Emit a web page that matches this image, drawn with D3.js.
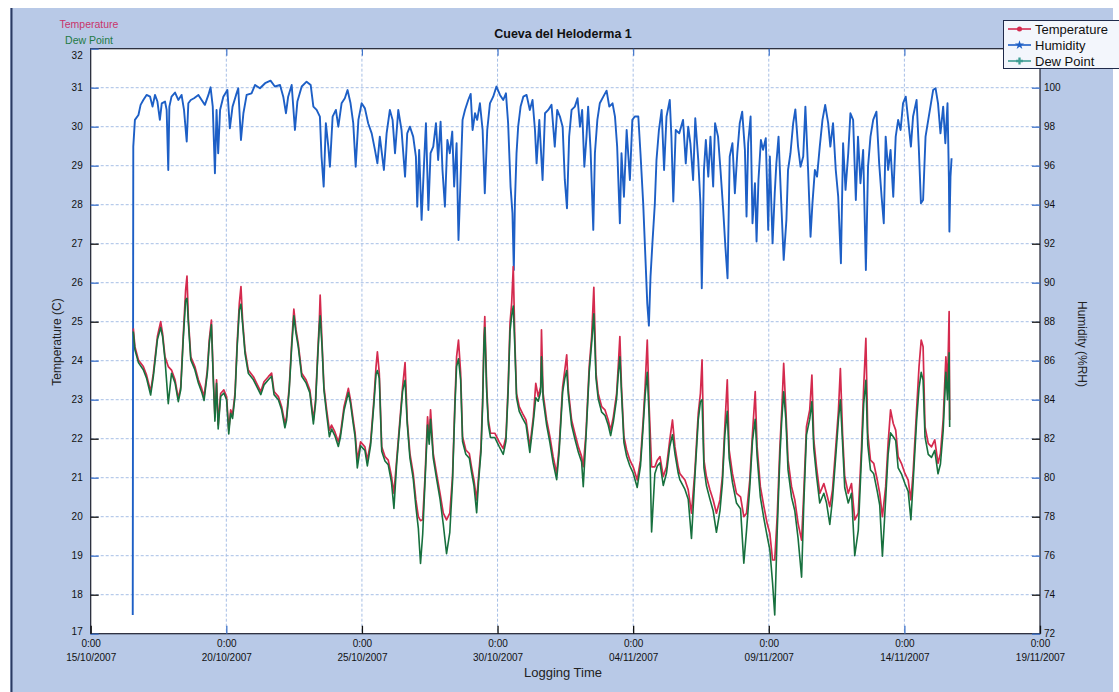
<!DOCTYPE html>
<html><head><meta charset="utf-8">
<script src="https://cdn.jsdelivr.net/npm/d3@7"></script>
<style>
html,body{margin:0;padding:0;background:#fff;}
svg{display:block;font-family:"Liberation Sans",Arial,sans-serif;}
</style></head><body>
<svg id="chart" width="1119" height="692"></svg>
<script>
// ---- data (days since 15/10/2007 00:00) ----
const tempDays = [
1.57,1.63,1.76,1.94,2.06,2.21,2.31,2.46,2.58,2.65,
2.74,2.86,2.98,3.11,3.23,3.32,3.41,3.50,3.55,3.60,
3.69,3.84,3.97,4.09,4.18,4.30,4.37,4.45,4.52,4.58,
4.64,4.70,4.79,4.91,5.01,5.09,5.16,5.23,5.32,5.40,
5.48,5.54,5.60,5.69,5.81,6.00,6.12,6.27,6.39,6.55,
6.67,6.76,6.92,7.04,7.16,7.22,7.32,7.41,7.49,7.57,
7.65,7.78,7.94,8.08,8.21,8.29,8.37,8.43,8.46,8.53,
8.60,8.70,8.80,8.88,9.00,9.13,9.21,9.34,9.50,9.58,
9.68,9.75,9.83,9.95,10.11,10.20,10.32,10.44,10.52,10.57,
10.64,10.73,10.85,10.97,11.09,11.18,11.28,11.40,11.50,11.59,
11.67,11.77,11.89,11.99,12.08,12.16,12.24,12.32,12.42,12.48,
12.53,12.63,12.75,12.88,13.00,13.12,13.24,13.34,13.43,13.49,
13.56,13.64,13.71,13.83,13.96,14.04,14.13,14.23,14.30,14.39,
14.45,14.50,14.53,14.60,14.66,14.74,14.90,15.06,15.21,15.31,
15.39,15.46,15.52,15.58,15.64,15.70,15.80,15.92,16.05,16.19,
16.32,16.41,16.50,16.59,16.62,16.68,16.81,16.93,17.05,17.18,
17.27,17.40,17.48,17.55,17.61,17.73,17.85,17.98,18.10,18.16,
18.26,18.38,18.47,18.55,18.63,18.71,18.84,18.96,19.08,19.17,
19.27,19.39,19.45,19.51,19.57,19.66,19.76,19.88,20.00,20.15,
20.27,20.37,20.44,20.52,20.59,20.68,20.80,20.89,20.99,21.11,
21.23,21.35,21.45,21.54,21.66,21.72,21.91,22.03,22.15,22.27,
22.40,22.48,22.54,22.61,22.70,22.83,22.95,23.07,23.20,23.29,
23.38,23.47,23.54,23.66,23.81,23.96,24.08,24.18,24.30,24.40,
24.50,24.57,24.69,24.82,24.94,25.04,25.14,25.22,25.31,25.41,
25.48,25.55,25.63,25.71,25.84,25.96,26.08,26.21,26.29,26.39,
26.51,26.59,26.66,26.76,26.88,27.03,27.13,27.25,27.35,27.47,
27.57,27.64,27.72,27.80,27.93,28.05,28.17,28.30,28.42,28.50,
28.58,28.65,28.75,28.87,29.00,29.09,29.19,29.31,29.40,29.49,
29.59,29.68,29.77,29.89,30.02,30.14,30.24,30.32,30.45,30.54,
30.62,30.69,30.76,30.88,31.00,31.12,31.24,31.33,31.43,31.53,
31.59,31.65,31.67];

const temperature = [
24.83,24.36,24.02,23.85,23.63,23.21,23.68,24.62,25.00,24.70,
24.10,23.85,23.76,23.51,23.03,23.33,24.62,25.81,26.17,25.09,
24.10,23.85,23.51,23.29,23.08,23.76,24.53,25.04,23.59,22.56,
23.51,22.35,23.16,23.25,23.08,22.22,22.74,22.61,23.16,24.45,
25.47,25.90,25.04,24.27,23.76,23.59,23.42,23.21,23.46,23.59,
23.68,23.21,23.08,22.82,22.39,22.56,23.33,24.45,25.32,24.79,
24.45,23.68,23.51,23.25,22.48,22.99,24.19,25.04,25.68,24.45,
23.33,22.74,22.22,22.35,22.18,21.92,22.14,22.82,23.29,22.99,
22.48,22.14,21.45,21.92,21.79,21.45,21.92,22.99,23.85,24.23,
23.68,21.79,21.54,21.45,21.03,20.60,21.45,22.48,23.33,23.95,
22.48,21.62,21.11,20.43,20.00,19.90,19.92,20.94,22.56,21.97,
22.74,21.62,21.11,20.60,20.09,19.92,20.09,21.03,22.99,24.10,
24.53,23.68,22.05,21.71,21.62,21.28,20.94,20.43,21.03,21.79,
22.99,24.62,25.13,23.33,22.48,22.14,22.14,21.92,21.75,22.05,
23.33,24.96,25.47,26.41,24.45,23.16,22.82,22.65,22.48,21.79,
22.56,23.42,23.08,23.33,24.79,23.16,22.48,22.05,21.54,21.11,
21.79,23.33,23.76,24.15,23.25,22.48,22.14,21.79,21.54,21.28,
22.14,23.85,24.62,25.88,23.68,23.16,22.82,22.74,22.48,22.22,
22.56,23.16,23.85,24.62,23.33,22.05,21.71,21.45,21.28,20.94,
21.45,22.48,23.33,24.53,22.82,21.28,21.28,21.45,21.54,21.03,
21.28,21.97,22.48,21.79,21.28,21.11,20.94,20.69,20.09,21.11,
22.65,23.16,24.02,21.45,21.03,20.69,20.43,20.09,20.43,21.03,
22.31,23.51,21.71,21.11,20.60,20.51,20.00,20.09,20.94,22.14,
23.21,21.79,20.77,20.26,19.83,19.57,18.89,18.89,20.00,21.79,
22.74,23.93,22.74,21.45,20.77,20.43,19.83,19.40,20.60,22.31,
22.74,23.63,21.97,21.28,20.60,20.85,20.60,20.26,20.69,21.79,
22.74,23.80,22.14,21.03,20.60,20.85,19.92,20.09,21.79,23.33,
24.57,22.14,21.45,21.37,20.94,20.60,20.00,20.77,21.88,22.74,
22.39,22.22,21.54,21.37,21.11,20.94,20.43,21.11,22.74,23.85,
24.53,24.36,22.31,21.88,21.79,21.97,21.37,21.62,22.48,24.10,
23.33,25.26,22.48];

const dewPoint = [
24.75,24.28,23.95,23.77,23.55,23.12,23.60,24.54,24.85,24.62,
24.02,22.90,23.68,23.43,22.95,23.25,24.52,25.55,25.60,24.98,
24.02,23.77,23.43,23.20,22.98,23.68,24.43,24.92,23.50,22.45,
23.42,22.25,23.08,23.17,23.00,22.12,22.65,22.52,23.08,24.35,
25.30,25.45,24.95,24.18,23.68,23.51,23.34,23.13,23.38,23.51,
23.60,23.13,23.00,22.74,22.28,22.47,23.25,24.35,25.15,24.70,
24.37,23.60,23.43,23.17,22.38,22.90,24.08,24.90,25.15,24.36,
23.24,22.62,22.05,22.25,22.08,21.80,22.05,22.72,23.18,22.90,
22.38,22.04,21.25,21.82,21.70,21.30,21.83,22.88,23.65,23.75,
23.55,21.68,21.43,21.33,20.88,20.21,21.35,22.38,23.22,23.50,
22.38,21.50,20.98,20.25,19.70,18.80,19.55,20.80,22.35,21.86,
22.50,21.50,20.98,20.45,19.80,19.05,19.60,20.90,22.85,23.85,
24.05,23.50,21.93,21.60,21.50,21.15,20.80,20.10,20.90,21.66,
22.85,24.45,24.85,23.20,22.37,22.03,22.03,21.80,21.60,21.94,
23.20,24.75,25.15,25.40,24.30,23.05,22.70,22.53,22.36,21.65,
22.44,23.05,22.96,23.20,24.10,23.02,22.35,21.90,21.38,20.95,
21.65,23.20,23.55,23.75,23.12,22.35,22.00,21.65,21.40,20.77,
22.02,23.70,24.45,25.20,23.55,23.03,22.68,22.60,22.35,22.08,
22.43,23.03,23.65,24.10,23.18,21.90,21.55,21.30,21.12,20.75,
21.30,22.33,23.10,23.70,22.55,19.61,21.10,21.30,21.38,20.80,
21.12,21.80,22.10,21.62,21.12,20.95,20.70,20.45,19.44,20.95,
22.48,22.95,23.00,21.25,20.80,20.45,20.15,19.60,20.15,20.85,
22.10,22.70,21.50,20.88,20.35,20.20,18.81,19.65,20.75,21.95,
22.50,21.55,20.50,19.95,19.50,19.15,18.30,17.48,19.60,21.55,
22.50,23.20,22.50,21.20,20.50,20.15,19.45,18.45,20.30,22.10,
22.50,22.95,21.75,21.05,20.35,20.60,20.35,19.80,20.45,21.55,
22.50,23.00,21.90,20.75,20.35,20.60,19.00,19.65,21.55,22.90,
23.50,21.85,21.20,21.10,20.65,20.30,18.99,20.45,21.60,22.15,
22.05,21.95,21.25,21.10,20.85,20.65,19.92,20.85,22.45,23.30,
23.70,23.50,22.05,21.60,21.52,21.70,21.10,21.35,22.20,23.70,
23.00,24.20,22.30];

const humDays = [
1.55,1.57,1.63,1.76,1.84,1.94,2.06,2.19,2.28,2.37,
2.46,2.55,2.62,2.74,2.80,2.86,2.90,2.98,3.11,3.23,
3.35,3.44,3.54,3.60,3.69,3.81,3.97,4.09,4.21,4.34,
4.42,4.50,4.58,4.64,4.70,4.77,4.89,5.04,5.13,5.23,
5.36,5.44,5.54,5.63,5.75,5.93,6.06,6.24,6.43,6.63,
6.79,6.98,7.10,7.20,7.28,7.41,7.53,7.62,7.78,7.96,
8.11,8.21,8.33,8.45,8.51,8.59,8.67,8.76,8.82,8.92,
9.04,9.13,9.25,9.37,9.47,9.58,9.68,9.77,9.87,9.99,
10.11,10.23,10.36,10.48,10.57,10.66,10.81,10.91,11.03,11.13,
11.22,11.34,11.46,11.59,11.67,11.77,11.89,11.99,12.04,12.11,
12.20,12.29,12.36,12.45,12.53,12.63,12.73,12.81,12.90,12.97,
13.06,13.15,13.24,13.33,13.40,13.49,13.56,13.64,13.71,13.80,
13.92,14.01,14.08,14.17,14.25,14.35,14.45,14.53,14.62,14.72,
14.84,14.96,15.09,15.21,15.31,15.39,15.48,15.55,15.60,15.64,
15.70,15.76,15.85,15.95,16.07,16.19,16.29,16.38,16.44,16.54,
16.66,16.75,16.87,16.99,17.11,17.20,17.30,17.40,17.48,17.56,
17.64,17.73,17.85,17.95,18.04,18.12,18.20,18.28,18.34,18.43,
18.53,18.59,18.68,18.77,18.90,19.02,19.12,19.24,19.33,19.41,
19.51,19.57,19.66,19.76,19.88,19.97,20.06,20.19,20.27,20.37,
20.46,20.52,20.58,20.64,20.71,20.80,20.86,20.95,21.05,21.14,
21.23,21.35,21.41,21.48,21.57,21.70,21.84,21.94,22.03,22.11,
22.21,22.29,22.40,22.48,22.53,22.61,22.68,22.77,22.85,22.95,
23.02,23.13,23.22,23.32,23.40,23.48,23.56,23.66,23.75,23.84,
23.93,24.02,24.12,24.18,24.24,24.33,24.40,24.49,24.55,24.62,
24.71,24.79,24.89,24.98,25.04,25.14,25.22,25.28,25.36,25.44,
25.55,25.65,25.71,25.80,25.90,25.98,26.08,26.17,26.27,26.35,
26.45,26.54,26.61,26.70,26.78,26.88,26.98,27.08,27.19,27.27,
27.37,27.47,27.56,27.66,27.74,27.83,27.93,28.01,28.11,28.21,
28.29,28.38,28.48,28.58,28.66,28.75,28.85,28.97,29.07,29.16,
29.24,29.31,29.40,29.49,29.59,29.68,29.77,29.86,29.95,30.05,
30.14,30.24,30.32,30.45,30.53,30.61,30.69,30.78,30.88,30.96,
31.06,31.15,31.24,31.33,31.43,31.51,31.59,31.64,31.66,31.70,
31.74];

const humidity = [
72.96,96.98,98.35,98.60,99.12,99.37,99.63,99.54,99.03,99.63,
99.29,98.35,99.20,99.29,98.86,95.78,99.03,99.54,99.75,99.37,
99.63,98.86,97.24,99.20,99.37,99.46,99.63,99.37,99.12,99.63,
100.02,99.03,95.61,98.86,96.64,98.86,99.54,99.88,97.92,99.03,
99.63,99.97,97.32,98.69,99.63,99.71,100.14,99.97,100.23,100.36,
100.06,100.14,99.54,98.69,99.54,100.14,97.83,99.29,100.06,100.31,
100.14,99.03,98.86,98.52,96.47,94.93,98.18,96.98,95.95,98.52,
98.86,98.00,99.20,99.46,99.88,99.20,98.18,95.95,98.35,99.20,
98.94,98.18,97.66,96.81,96.12,97.49,95.78,97.66,98.86,98.35,
96.64,98.86,97.83,95.44,97.66,98.00,97.49,96.47,93.90,96.81,
93.22,96.12,98.18,93.73,96.64,96.98,98.18,96.29,98.26,95.78,
93.90,97.32,96.64,97.75,94.93,97.15,92.19,95.44,98.35,98.86,
99.37,99.68,97.83,98.69,98.35,99.20,97.83,94.59,97.83,99.20,
99.54,100.06,99.63,99.37,99.71,98.18,94.93,93.56,90.65,94.07,
96.64,98.00,99.03,99.54,99.63,98.86,99.37,97.83,96.12,98.35,
95.27,98.69,98.86,99.12,96.98,98.86,98.52,98.00,95.27,93.82,
97.49,98.86,99.03,99.46,98.00,98.86,95.95,97.49,99.03,96.81,
92.71,96.64,98.35,99.20,99.54,99.85,99.03,99.20,98.52,96.98,
93.05,96.64,94.41,97.83,95.27,98.35,98.52,98.52,96.64,94.07,
91.00,88.94,87.80,90.31,92.02,94.07,96.29,97.83,98.86,95.78,
98.52,99.37,97.49,94.16,97.83,97.66,98.35,96.12,98.00,97.15,
95.27,98.43,96.29,94.07,89.71,95.78,97.32,95.44,97.49,94.93,
98.18,97.49,95.78,93.73,91.85,90.23,96.47,97.15,94.59,96.64,
98.18,98.77,96.81,93.39,97.15,98.52,93.05,95.10,92.11,95.27,
97.32,96.81,97.41,92.71,96.47,92.02,94.59,96.12,97.49,94.76,
91.17,93.22,95.78,96.64,98.18,98.89,96.98,95.95,96.47,99.03,
95.78,92.36,94.07,95.78,95.44,96.98,98.35,99.12,98.18,96.98,
98.18,95.78,94.41,91.00,97.15,94.76,96.64,98.69,98.35,94.24,
97.49,95.10,96.81,90.65,95.95,97.49,98.35,98.77,96.12,94.41,
93.05,97.49,95.78,96.81,94.41,97.49,98.35,97.83,99.20,99.54,
98.35,96.98,98.52,99.37,96.98,94.07,94.24,97.49,98.35,99.03,
99.88,99.97,99.20,97.66,99.03,97.15,99.20,95.44,92.62,95.44,
96.38];

const tempTicks = [17,18,19,20,21,22,23,24,25,26,27,28,29,30,31,32];
const humTicks = [72,74,76,78,80,82,84,86,88,90,92,94,96,98,100];
const dateTicks = ["2007-10-15","2007-10-20","2007-10-25","2007-10-30","2007-11-04","2007-11-09","2007-11-14","2007-11-19"];
const legendNames = ["Temperature","Humidity","Dew Point"];

// ---- drawing ----
const svg = d3.select("#chart");
const L = 90.7, R = 1040, T = 48.7, B = 633.7;
const parse = d3.utcParse("%Y-%m-%d");
const tickDates = dateTicks.map(parse);
const day0 = tickDates[0].getTime();
const toDate = d => new Date(day0 + d * 864e5);

const x = d3.scaleUtc().domain([tickDates[0], tickDates[tickDates.length-1]]).range([L, R]);
const yT = d3.scaleLinear().domain([17, 32]).range([B, T]);
const yH = d3.scaleLinear().domain([72, 102]).range([B, T]);

const cTemp = "#d42a4e", cHum = "#1d5fc6", cDew = "#17703e";

// panel background
svg.append("rect").attr("x", 10).attr("y", 8).attr("width", 1103).attr("height", 684).attr("fill", "#b8c9e7");
svg.append("line").attr("x1", 11.5).attr("x2", 11.5).attr("y1", 8).attr("y2", 692).attr("stroke", "#2a3a62").attr("stroke-width", 2);

// plot area
svg.append("rect").attr("x", L).attr("y", T).attr("width", R - L).attr("height", B - T).attr("fill", "#fff");

// grid
const grid = svg.append("g");
grid.selectAll("line.h").data(tempTicks.slice(1, -1)).join("line")
  .attr("x1", L).attr("x2", R).attr("y1", d => yT(d)).attr("y2", d => yT(d))
  .attr("stroke", "#a7bfe6").attr("stroke-dasharray", "3,2").attr("stroke-width", 1);
grid.selectAll("line.v").data(tickDates.slice(1, -1)).join("line")
  .attr("y1", T).attr("y2", B).attr("x1", d => x(d)).attr("x2", d => x(d))
  .attr("stroke", "#a7bfe6").attr("stroke-dasharray", "3,2").attr("stroke-width", 1);

// series
const plot = svg.append("g");
const lineT = d3.line().x((d, i) => x(toDate(tempDays[i]))).y(d => yT(d));
const lineH = d3.line().x((d, i) => x(toDate(humDays[i]))).y(d => yH(d));

plot.append("path").datum(humidity).attr("d", lineH).attr("fill", "none")
  .attr("stroke", cHum).attr("stroke-width", 1.9).attr("stroke-linejoin", "round");
plot.append("path").datum(temperature).attr("d", lineT).attr("fill", "none")
  .attr("stroke", cTemp).attr("stroke-width", 1.7).attr("stroke-linejoin", "round");
plot.append("path").datum(dewPoint).attr("d", lineT).attr("fill", "none")
  .attr("stroke", cDew).attr("stroke-width", 1.6).attr("stroke-linejoin", "round");

// border
svg.append("rect").attr("x", L).attr("y", T).attr("width", R - L).attr("height", B - T)
  .attr("fill", "none").attr("stroke", "#1c1f2e").attr("stroke-width", 1.2);

const majorT = [18, 20, 22, 25, 27];
// left axis
const axL = svg.append("g").attr("transform", `translate(${L},0)`)
  .call(d3.axisLeft(yT).tickValues(tempTicks).tickSize(-8).tickPadding(8).tickFormat(d3.format("d")));
axL.select(".domain").remove();
axL.selectAll(".tick line").attr("stroke", d => majorT.includes(d) ? "#111" : "#3f73c9").attr("stroke-width", 1.3);
axL.selectAll(".tick text").attr("font-size", 10).attr("fill", "#111")
  .attr("dy", d => d === 32 ? "0.95em" : (d === 17 ? "0.05em" : "0.32em"));

// right axis
const axR = svg.append("g").attr("transform", `translate(${R},0)`)
  .call(d3.axisRight(yH).tickValues(humTicks).tickSize(-8).tickPadding(4).tickFormat(d3.format("d")));
axR.select(".domain").remove();
axR.selectAll(".tick line").attr("stroke", d => majorT.includes((d - 38) / 2) ? "#111" : "#3f73c9").attr("stroke-width", 1.3);
axR.selectAll(".tick text").attr("font-size", 10).attr("fill", "#111");

// bottom axis
const fmtDate = d3.utcFormat("%d/%m/%Y");
const axB = svg.append("g").attr("transform", `translate(0,${B})`)
  .call(d3.axisBottom(x).tickValues(tickDates).tickSize(-8).tickFormat(""));
axB.select(".domain").remove();
axB.selectAll(".tick line").attr("stroke", (d, i) => (i === 1 || i === 6) ? "#3f73c9" : "#111").attr("stroke-width", 1.3);
axB.selectAll(".tick").each(function(d) {
  const t = d3.select(this).append("text").attr("fill", "#111").attr("font-size", 10).attr("text-anchor", "middle");
  t.append("tspan").attr("x", 0).attr("y", 13).text("0:00");
  t.append("tspan").attr("x", 0).attr("y", 27).text(fmtDate(d));
});
// top ticks
const axTop = svg.append("g").attr("transform", `translate(0,${T})`)
  .call(d3.axisTop(x).tickValues(tickDates.slice(1, -1)).tickSize(-7).tickFormat(""));
axTop.select(".domain").remove();
axTop.selectAll(".tick line").attr("stroke", "#3f73c9").attr("stroke-width", 1.2);

// titles
svg.append("text").attr("x", 563).attr("y", 38).attr("text-anchor", "middle")
  .attr("font-size", 12.5).attr("font-weight", "bold").attr("fill", "#111").text("Cueva del Heloderma 1");
svg.append("text").attr("x", 563).attr("y", 677).attr("text-anchor", "middle")
  .attr("font-size", 13).attr("fill", "#222").text("Logging Time");
svg.append("text").attr("transform", "translate(61,342) rotate(-90)").attr("text-anchor", "middle")
  .attr("font-size", 12).attr("fill", "#222").text("Temperature (C)");
svg.append("text").attr("transform", "translate(1078,344) rotate(90)").attr("text-anchor", "middle")
  .attr("font-size", 12).attr("fill", "#222").text("Humidity (%RH)");

// top-left labels
svg.append("text").attr("x", 89).attr("y", 28).attr("text-anchor", "middle")
  .attr("font-size", 10.5).attr("fill", "#c8346a").text(legendNames[0]);
svg.append("text").attr("x", 89).attr("y", 44).attr("text-anchor", "middle")
  .attr("font-size", 10.5).attr("fill", "#1e7a45").text(legendNames[2]);

// legend box
const lg = svg.append("g");
lg.append("rect").attr("x", 1003.5).attr("y", 20.5).attr("width", 116).attr("height", 48)
  .attr("fill", "#f3f6fc").attr("stroke", "#1f2a4a").attr("stroke-width", 1);
const lgColors = [cTemp, cHum, "#3f9e94"];
const lgSym = [d3.symbolCircle, d3.symbolStar, d3.symbolCross];
legendNames.forEach((n, i) => {
  const yy = 29 + i * 16;
  lg.append("line").attr("x1", 1008).attr("x2", 1031).attr("y1", yy).attr("y2", yy)
    .attr("stroke", lgColors[i]).attr("stroke-width", 1.6);
  lg.append("path").attr("transform", `translate(1019.5,${yy})`)
    .attr("d", d3.symbol().type(lgSym[i]).size(i === 0 ? 20 : 26)())
    .attr("fill", lgColors[i]);
  lg.append("text").attr("x", 1035).attr("y", yy + 4.5).attr("font-size", 13)
    .attr("fill", "#111").text(n);
});
</script>
</body></html>
